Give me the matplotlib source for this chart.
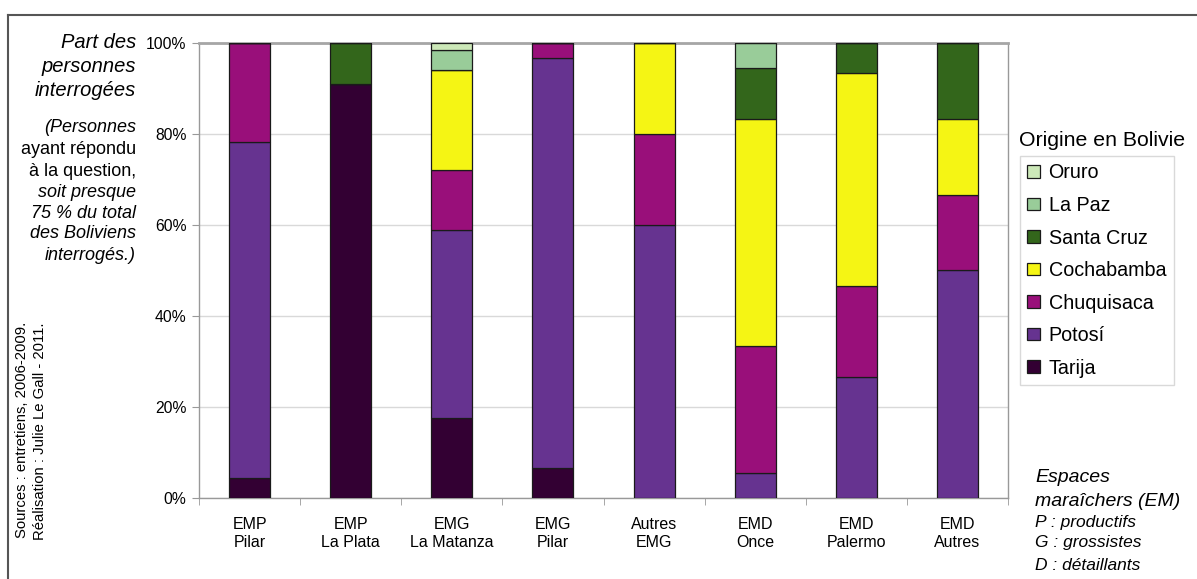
import matplotlib.pyplot as plt
import numpy as np

plt.rcParams['font.family'] = ['Liberation Sans', 'DejaVu Sans']

# categories (two-line labels) and shares in %
categories = ["EMP\nPilar", "EMP\nLa Plata", "EMG\nLa Matanza", "EMG\nPilar",
              "Autres\nEMG", "EMD\nOnce", "EMD\nPalermo", "EMD\nAutres"]
tarija = [4.3, 90.9, 17.6, 6.5, 0, 0, 0, 0]
potosi = [73.9, 0, 41.2, 90.3, 60.0, 5.6, 26.7, 50.0]
chuquisaca = [21.8, 0, 13.3, 3.2, 20.0, 27.8, 20.0, 16.7]
cochabamba = [0, 0, 22.0, 0, 20.0, 50.0, 46.6, 16.6]
santa_cruz = [0, 9.1, 0, 0, 0, 11.1, 6.7, 16.7]
la_paz = [0, 0, 4.4, 0, 0, 5.5, 0, 0]
oruro = [0, 0, 1.5, 0, 0, 0, 0, 0]

series = [("Tarija", tarija, "#330033"),
          ("Potosí", potosi, "#663390"),
          ("Chuquisaca", chuquisaca, "#990F7A"),
          ("Cochabamba", cochabamba, "#F5F514"),
          ("Santa Cruz", santa_cruz, "#33661B"),
          ("La Paz", la_paz, "#99CC99"),
          ("Oruro", oruro, "#CCE8B8")]

W, H = 1197, 579
fig = plt.figure(figsize=(W / 100, H / 100), dpi=100)
ax = fig.add_axes([199 / W, 1 - 498 / H, (1008 - 199) / W, (498 - 43) / H])

x = np.arange(len(categories))
bottom = np.zeros(len(categories))
handles = []
for name, vals, col in series:
    vals = np.array(vals, dtype=float)
    b = ax.bar(x, vals, 0.405, bottom=bottom, color=col, edgecolor="#1a1a1a",
               linewidth=0.9, label=name, zorder=3)
    handles.append(b)
    bottom += vals

ax.set_xlim(-0.5, len(categories) - 0.5)
ax.set_ylim(0, 100)
ax.set_yticks(np.arange(0, 101, 20))
ax.set_yticklabels([f"{v}%" for v in range(0, 101, 20)], fontsize=11.3)
ax.yaxis.grid(True, color="#d9d9d9", linewidth=1, zorder=0)
ax.tick_params(axis="y", length=5, color="#999999", pad=4)

ax.set_xticks(x)
ax.set_xticklabels(categories, fontsize=11.5)
ax.set_xticks(np.arange(-0.5, len(categories), 1), minor=True)
ax.tick_params(axis="x", which="major", length=0, pad=14)
ax.tick_params(axis="x", which="minor", length=5, color="#999999")
for s in ax.spines.values():
    s.set_color("#999999")
    s.set_linewidth(1)
ax.spines["top"].set_color("#a6a6a6")
ax.spines["top"].set_linewidth(2)

# legend (title kept outside the frame like the original)
fig.text(1019 / W, 1 - 140 / H, "Origine en Bolivie", fontsize=15.3, va="center")
leg = fig.legend(handles[::-1], [s[0] for s in series][::-1],
                 loc="upper left", bbox_to_anchor=(1020 / W, 1 - 156 / H),
                 fontsize=14.2, frameon=True, fancybox=False,
                 handlelength=0.62, handleheight=0.62, handletextpad=0.45,
                 labelspacing=0.685, borderpad=0.38, borderaxespad=0)
leg.get_frame().set_edgecolor("#d0d0d0")
leg.get_frame().set_linewidth(1)

# left side texts
for yy, t in [(42, "Part des"), (66, "personnes"), (90, "interrogées")]:
    fig.text(136 / W, 1 - yy / H, t, fontsize=14.5, style="italic",
             ha="right", va="center")
small = [(128, "(Personnes", "italic"), (150, "ayant répondu", "normal"),
         (172, "à la question,", "normal"), (193, "soit presque", "italic"),
         (213, "75 % du total", "italic"), (234, "des Boliviens", "italic"),
         (255, "interrogés.)", "italic")]
for yy, t, st in small:
    fig.text(136 / W, 1 - yy / H, t, fontsize=13, style=st,
             ha="right", va="center")

fig.text(22 / W, 1 - 322 / H, "Sources : entretiens, 2006-2009.", fontsize=10.7,
         rotation=90, ha="center", va="top")
fig.text(40 / W, 1 - 322 / H, "Réalisation : Julie Le Gall - 2011.", fontsize=10.7,
         rotation=90, ha="center", va="top")

# bottom right note
for yy, t, fs in [(477, "Espaces", 14), (502, "maraîchers (EM)", 14),
                  (523, "P : productifs", 12.5), (543, "G : grossistes", 12.5),
                  (565, "D : détaillants", 12.5)]:
    fig.text(1035 / W, 1 - yy / H, t, fontsize=fs, style="italic",
             ha="left", va="center")

# outer frame (left and top edges only visible)
fig.add_artist(plt.Line2D([8 / W, 8 / W], [0, 1 - 15 / H], transform=fig.transFigure,
                          color="#555555", linewidth=1.5))
fig.add_artist(plt.Line2D([8 / W, 1], [1 - 15 / H, 1 - 15 / H], transform=fig.transFigure,
                          color="#555555", linewidth=1.5))

fig.savefig("out.png", dpi=100)
